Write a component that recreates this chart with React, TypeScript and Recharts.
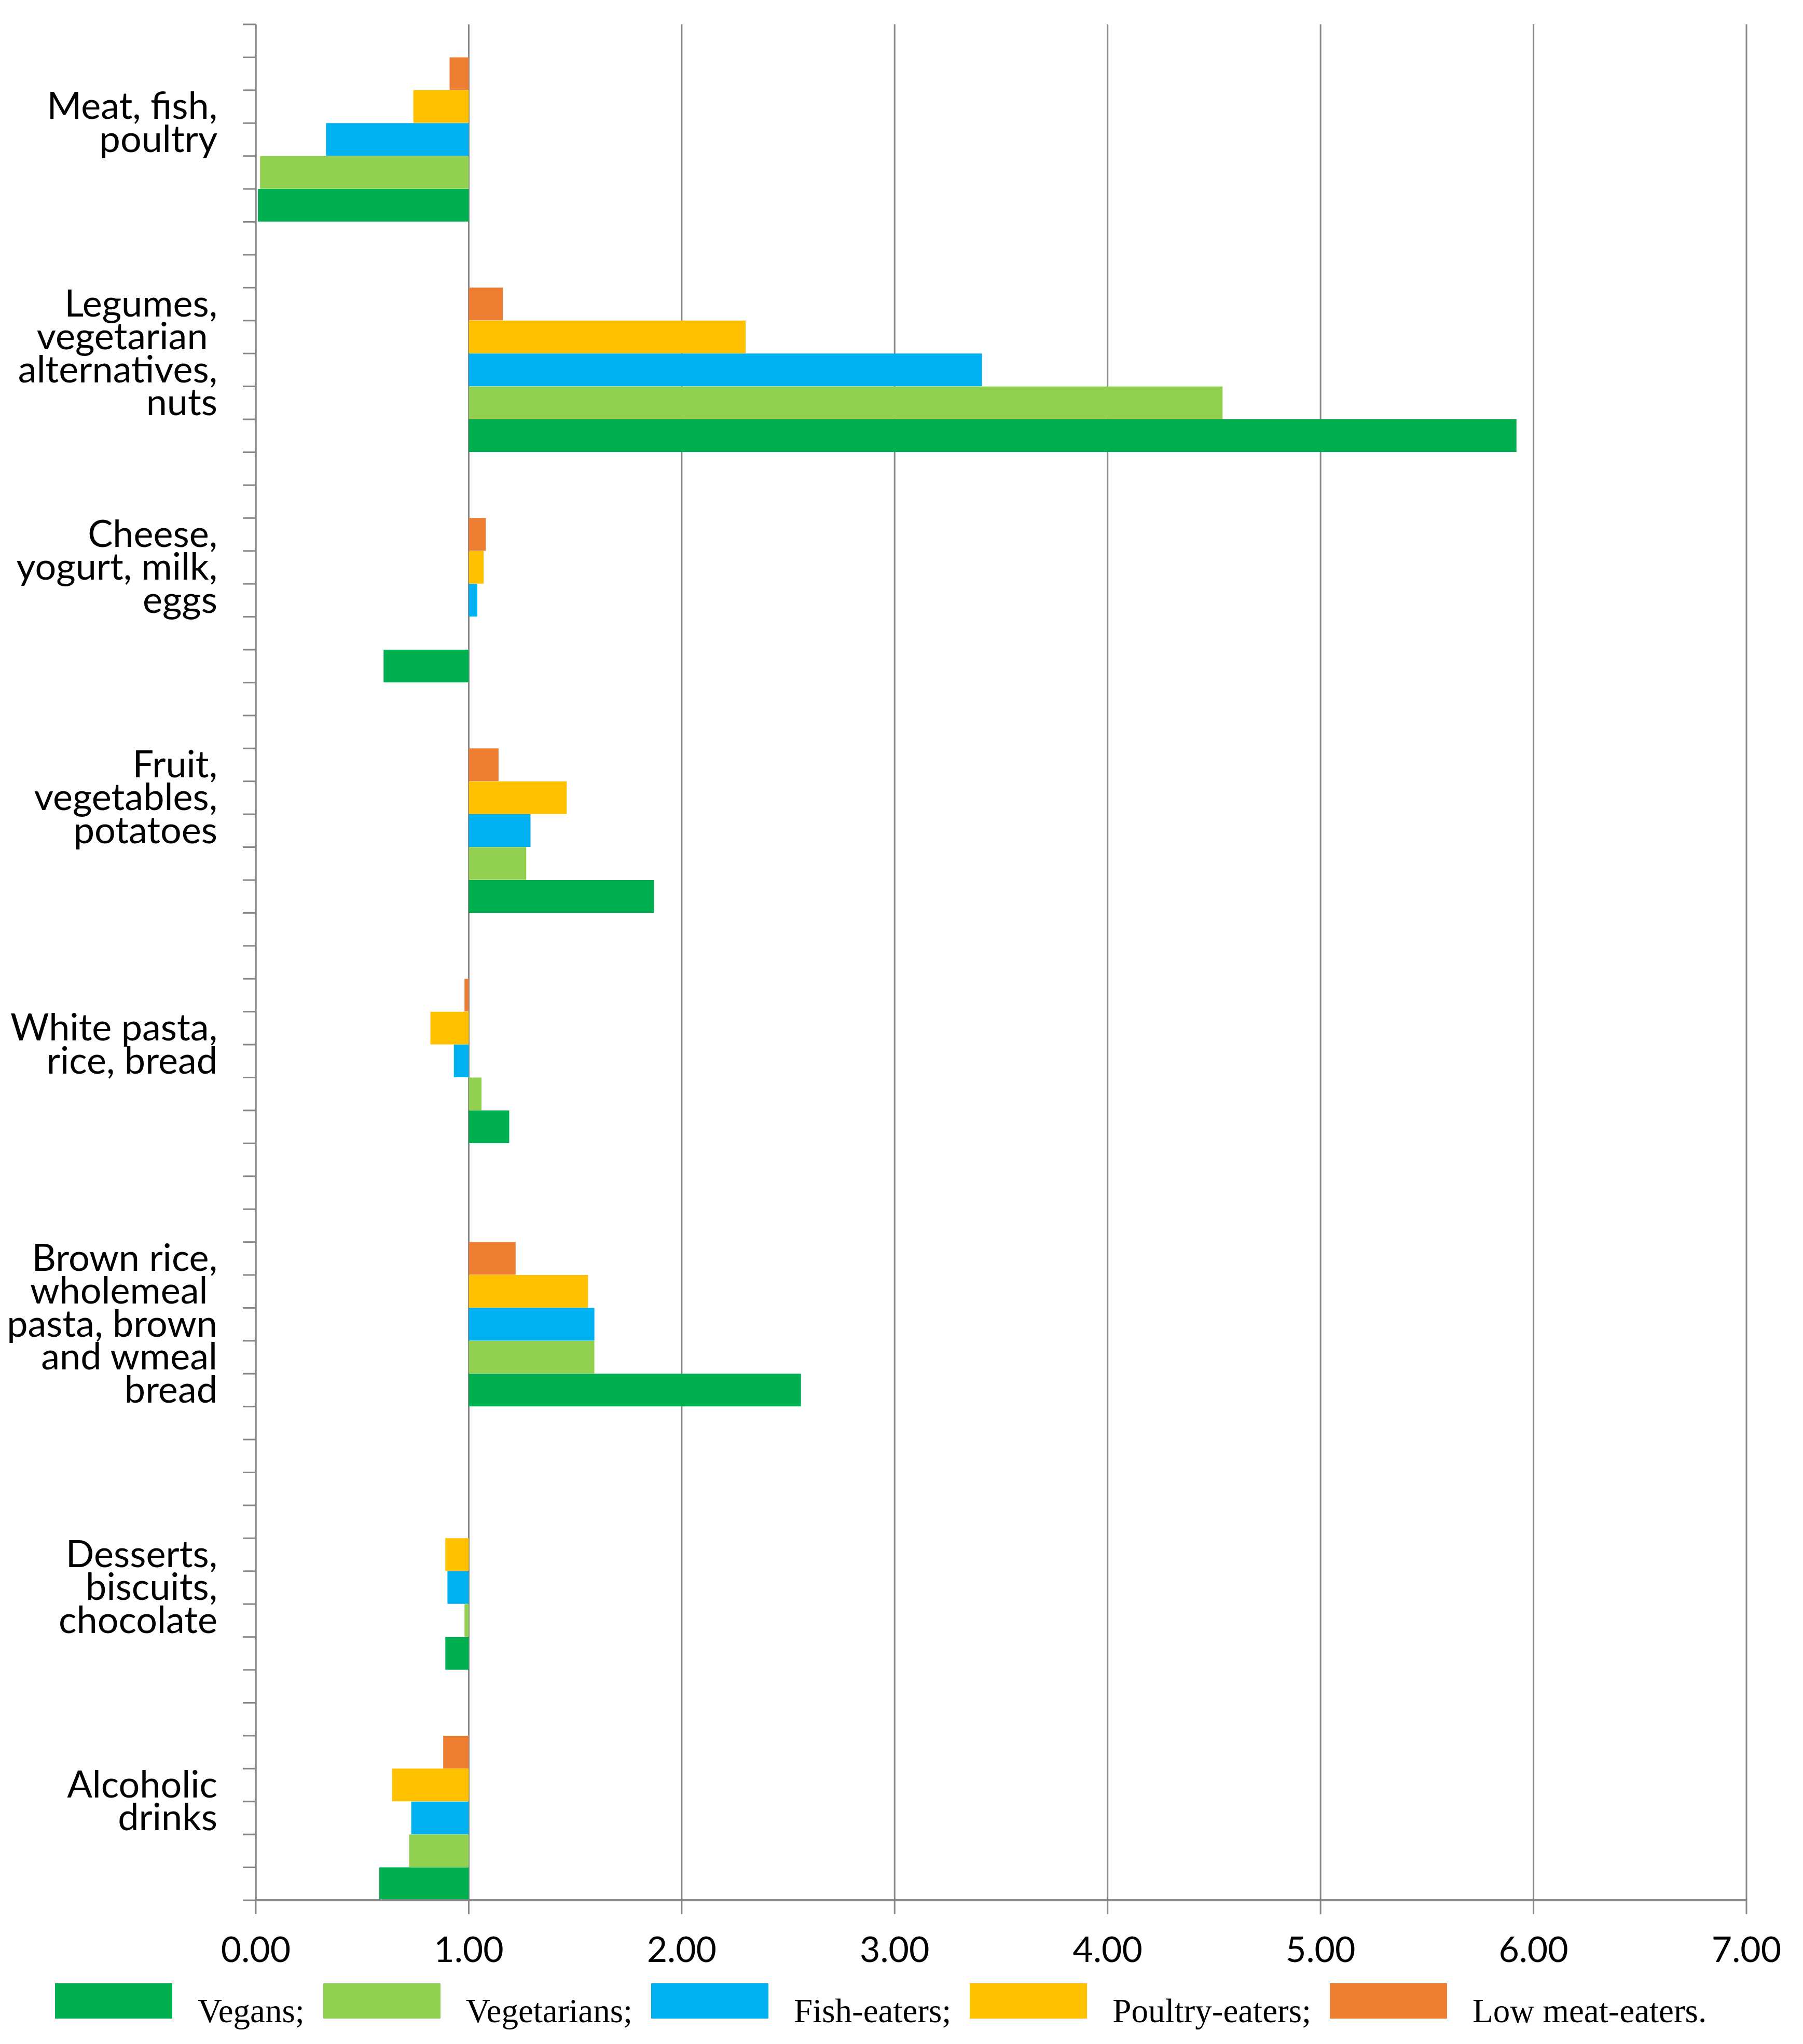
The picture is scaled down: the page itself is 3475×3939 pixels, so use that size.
import React from 'react';
import { BarChart, Bar, XAxis, YAxis, CartesianGrid, Legend } from 'recharts';

// Category labels (multi-line, as in the original)
const CATEGORIES = [
  'Meat, fish,\npoultry',
  'Legumes,\nvegetarian\u00a0\nalternatives,\nnuts',
  'Cheese,\nyogurt, milk,\neggs',
  'Fruit,\nvegetables,\npotatoes',
  'White pasta,\nrice, bread',
  'Brown rice,\nwholemeal\u00a0\npasta, brown\nand wmeal\nbread',
  'Desserts,\nbiscuits,\nchocolate',
  'Alcoholic\ndrinks',
];

// Row structure of the category axis (57 rows, one bar per row)
const ROW_COUNT = 57;
const GROUP_START_ROWS = [1, 8, 15, 22, 29, 37, 45, 52];
const LABEL_ROWS = [3, 10, 16.5, 23.5, 31, 39.5, 47.5, 54];

// Series values (ratios, bars drawn from the 1.00 baseline)
const VEGANS = [0.01, 5.92, 0.6, 1.87, 1.19, 2.56, 0.89, 0.58];
const VEGETARIANS = [0.02, 4.54, 1.0, 1.27, 1.06, 1.59, 0.98, 0.72];
const FISH_EATERS = [0.33, 3.41, 1.04, 1.29, 0.93, 1.59, 0.9, 0.73];
const POULTRY_EATERS = [0.74, 2.3, 1.07, 1.46, 0.82, 1.56, 0.89, 0.64];
const LOW_MEAT_EATERS = [0.91, 1.16, 1.08, 1.14, 0.98, 1.22, 1.0, 0.88];

const BASELINE = 1;
const X_TICKS = [0, 1, 2, 3, 4, 5, 6, 7];

const SERIES = [
  { key: 'vegans', name: 'Vegans', values: VEGANS, color: '#00B050' },
  { key: 'vegetarians', name: 'Vegetarians', values: VEGETARIANS, color: '#92D050' },
  { key: 'fish', name: 'Fish-eaters', values: FISH_EATERS, color: '#00B0F0' },
  { key: 'poultry', name: 'Poultry-eaters', values: POULTRY_EATERS, color: '#FFC000' },
  { key: 'low', name: 'Low meat-eaters', values: LOW_MEAT_EATERS, color: '#ED7D31' },
];

// order of the bars inside a group, from top to bottom
const GROUP_ORDER = ['low', 'poultry', 'fish', 'vegetarians', 'vegans'];

const GRID = '#878787';
const LABEL_FONT = 'Lato, "Open Sans", sans-serif';
const LABEL_SIZE = 72;
const TICK_SIZE = 68;
const LINE_H = 63.5;

const data: any[] = Array.from({ length: ROW_COUNT }, (_, row) => ({ row }));
GROUP_START_ROWS.forEach((start, g) => {
  GROUP_ORDER.forEach((key, j) => {
    const s = SERIES.find((x) => x.key === key)!;
    const v = s.values[g];
    data[start + j][key] = [Math.min(BASELINE, v), Math.max(BASELINE, v)];
  });
});

const ROW_TICKS = Array.from(
  new Set([...Array.from({ length: ROW_COUNT + 1 }, (_, i) => i), ...LABEL_ROWS])
).sort((a, b) => a - b);

const RowTick = (props: any) => {
  const { x, y, payload } = props;
  const v = payload.value;
  const idx = LABEL_ROWS.indexOf(v);
  const lines = idx >= 0 ? CATEGORIES[idx].split('\n') : [];
  const first = -((lines.length - 1) / 2) * LINE_H + LABEL_SIZE * 0.33;
  return (
    <g>
      {Number.isInteger(v) && (
        <line x1={x - 25} x2={x} y1={y} y2={y} stroke={GRID} strokeWidth={3} />
      )}
      {idx >= 0 && (
        <text
          x={x - 74}
          y={y}
          textAnchor="end"
          fontFamily={LABEL_FONT}
          fontSize={LABEL_SIZE}
          fill="#000"
        >
          {lines.map((l, k) => (
            <tspan key={k} x={x - 74} dy={k === 0 ? first : LINE_H}>
              {l}
            </tspan>
          ))}
        </text>
      )}
    </g>
  );
};

const seriesIndex = (name: string) => SERIES.findIndex((s) => s.name === name);

const renderLegend = (props: any) => {
  const payload = [...(props.payload || [])].sort(
    (a: any, b: any) => seriesIndex(a.value) - seriesIndex(b.value)
  );
  return (
    <div
      style={{
        display: 'flex',
        alignItems: 'flex-start',
        height: 112,
        paddingTop: 3,
        paddingLeft: 98,
        boxSizing: 'border-box',
      }}
    >
      {payload.map((e: any, i: number) => (
        <div key={i} style={{ display: 'flex', alignItems: 'flex-start', marginRight: 36 }}>
          <div style={{ width: 226, height: 68, background: e.color }} />
          <span
            style={{
              marginLeft: 49,
              marginTop: 21,
              fontFamily: '"Liberation Serif", "DejaVu Serif", serif',
              fontSize: 65,
              lineHeight: '65px',
              color: '#000',
              whiteSpace: 'nowrap',
            }}
          >
            {e.value}
            {i < payload.length - 1 ? ';' : '.'}
          </span>
        </div>
      ))}
    </div>
  );
};

export default function App() {
  return (
    <div style={{ width: 3459, height: 3923, background: '#fff' }}>
      <BarChart
        width={3459}
        height={3923}
        data={data}
        layout="vertical"
        margin={{ top: 39, right: 101, bottom: 0, left: 0 }}
        barCategoryGap={0}
        barGap={0}
      >
        <CartesianGrid
          horizontal={false}
          vertical
          stroke={GRID}
          strokeWidth={3}
          xAxisId={0}
          yAxisId="rows"
        />
        <XAxis
          xAxisId={0}
          type="number"
          domain={[0, 7]}
          ticks={X_TICKS}
          allowDataOverflow
          interval={0}
          tickFormatter={(v: number) => v.toFixed(2)}
          height={157}
          tickSize={27}
          tickMargin={44}
          axisLine={{ stroke: GRID, strokeWidth: 4 }}
          tickLine={{ stroke: GRID, strokeWidth: 3 }}
          tick={{ fill: '#000', fontSize: TICK_SIZE, fontFamily: LABEL_FONT }}
        />
        <YAxis
          yAxisId="rows"
          type="number"
          dataKey="row"
          domain={[0, ROW_COUNT]}
          allowDataOverflow
          ticks={ROW_TICKS}
          interval={0}
          width={485}
          tickSize={0}
          tickMargin={0}
          tickLine={false}
          axisLine={{ stroke: GRID, strokeWidth: 3 }}
          tick={(p: any) => <RowTick {...p} />}
        />
        {SERIES.map((s) => (
          <YAxis
            key={`ax-${s.key}`}
            yAxisId={`cat-${s.key}`}
            type="category"
            dataKey="row"
            width={0}
            hide
          />
        ))}
        {SERIES.map((s) => (
          <Bar
            key={s.key}
            dataKey={s.key}
            name={s.name}
            fill={s.color}
            xAxisId={0}
            yAxisId={`cat-${s.key}`}
            isAnimationActive={false}
          />
        ))}
        <Legend verticalAlign="bottom" align="left" content={renderLegend} />
      </BarChart>
    </div>
  );
}
